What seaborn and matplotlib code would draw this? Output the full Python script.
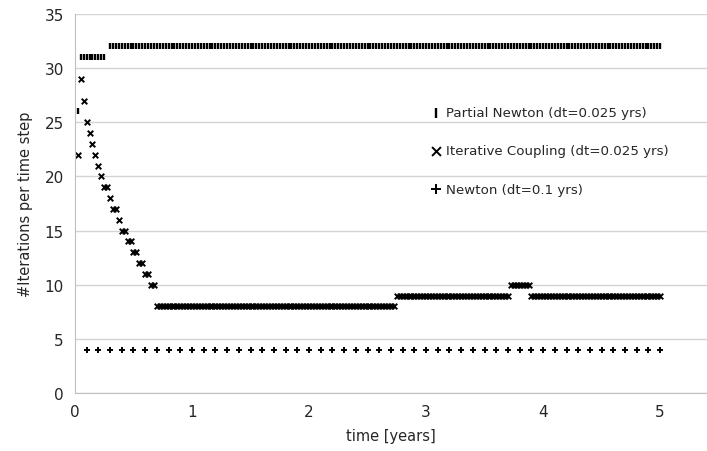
import numpy as np
import pandas as pd
import matplotlib
matplotlib.use("Agg")
import matplotlib.pyplot as plt
import seaborn as sns

sns.set_style("white")
plt.rcParams['font.family'] = ['DejaVu Sans']

# --------------------------
# Data
# --------------------------
# Partial Newton, dt = 0.025 yrs  (time, iterations)
pn_time = [0.025] + [0.05, 0.075, 0.1, 0.125, 0.15, 0.175, 0.2, 0.225, 0.25] + \
    list(np.round(np.arange(12, 201) * 0.025, 3))
pn_iters = [26] + [31] * 9 + [32] * 189

# Iterative Coupling, dt = 0.025 yrs: first steps one by one, then plateaus
ic_start = [22, 29, 27, 25, 24, 23, 22, 21, 20, 19, 19, 18, 17, 17, 16,
            15, 15, 14, 14, 13, 13, 12, 12, 11, 11, 10, 10]
ic_plateau_levels = [8, 9, 10, 9]
ic_plateau_counts = [82, 39, 7, 45]
ic_iters = ic_start + [lv for lv, n in zip(ic_plateau_levels, ic_plateau_counts) for _ in range(n)]
ic_time = list(np.round(np.arange(1, len(ic_iters) + 1) * 0.025, 3))

# Newton, dt = 0.1 yrs
nw_time = list(np.round(np.arange(1, 51) * 0.1, 2))
nw_iters = [4] * 50

labels = ["Partial Newton (dt=0.025 yrs)",
          "Iterative Coupling (dt=0.025 yrs)",
          "Newton (dt=0.1 yrs)"]

# --------------------------
# Plot
# --------------------------
fig = plt.figure(figsize=(7.07, 4.52), dpi=100)
ax = fig.add_axes([0.106, 0.128, 0.894, 0.839])

sns.scatterplot(x=pn_time, y=pn_iters, marker="|", color="black", s=20,
                linewidth=1.7, ax=ax, label=labels[0])
sns.scatterplot(x=ic_time, y=ic_iters, marker="x", color="black", s=16,
                linewidth=1.4, ax=ax, label=labels[1])
sns.scatterplot(x=nw_time, y=nw_iters, marker="+", color="black", s=20,
                linewidth=1.4, ax=ax, label=labels[2])

ax.set_xlim(0, 5.4)
ax.set_ylim(0, 35)
ax.set_xticks(range(0, 6))
ax.set_yticks(range(0, 36, 5))
ax.yaxis.grid(True, color="#d4d4d4", linewidth=1)
ax.set_axisbelow(True)
for side in ["top", "right"]:
    ax.spines[side].set_visible(False)
for side in ["left", "bottom"]:
    ax.spines[side].set_color("#bfbfbf")
ax.tick_params(axis="both", length=5, color="#bfbfbf", labelsize=11, pad=3)
ax.set_xlabel("time [years]", fontsize=10.5, labelpad=6)
ax.set_ylabel("#Iterations per time step", fontsize=10.5, labelpad=8)

ax.legend(loc="upper left", bbox_to_anchor=(0.552, 0.771), frameon=False,
          fontsize=9.6, labelspacing=1.9, handletextpad=0.25,
          handlelength=1.0, markerscale=1.6, borderaxespad=0)

fig.savefig("out.png", dpi=100)
